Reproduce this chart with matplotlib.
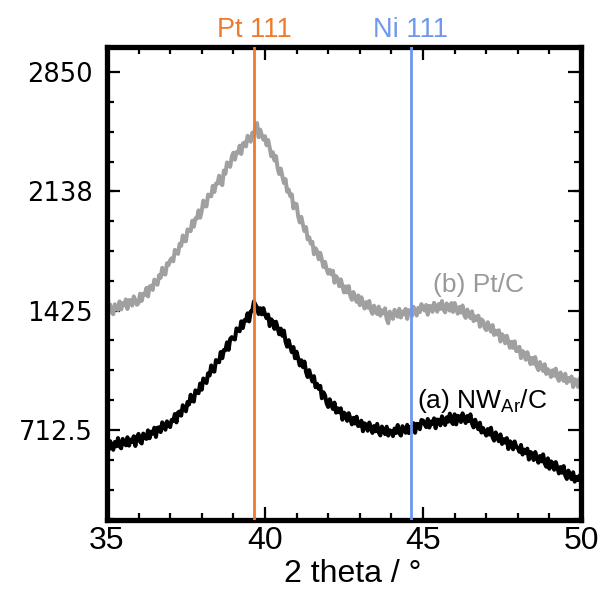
import numpy as np
import matplotlib
matplotlib.use("Agg")
import matplotlib.pyplot as plt
from matplotlib.ticker import MultipleLocator
import matplotlib.transforms as mtransforms

plt.rcParams['font.family'] = ['Liberation Sans', 'DejaVu Sans']
plt.rcParams['mathtext.fontset'] = 'custom'
plt.rcParams['mathtext.rm'] = 'Liberation Sans'
plt.rcParams['mathtext.it'] = 'Liberation Sans:italic'

# 2 theta grid, 0.05 deg steps from 35 to 50
two_theta = np.linspace(35.0, 50.0, 301)

# (a) NW_Ar/C  (black)
nw_ar = [
    623, 591, 646, 622, 594, 641, 615, 664, 616, 603, 659, 637, 621, 669, 619, 655, 641, 675, 617, 668,
    689, 643, 632, 691, 672, 659, 710, 663, 702, 691, 726, 671, 726, 728, 700, 758, 738, 714, 764, 740,
    730, 773, 767, 808, 758, 817, 823, 798, 860, 844, 824, 880, 865, 923, 886, 882, 949, 937, 932, 990,
    953, 1020, 1008, 993, 1051, 1038, 1098, 1063, 1061, 1130, 1120, 1117, 1178, 1141, 1190, 1189, 1236, 1191, 1256, 1267,
    1256, 1253, 1319, 1308, 1302, 1361, 1321, 1368, 1364, 1409, 1361, 1420, 1425, 1480, 1461, 1444, 1405, 1440, 1403, 1440,
    1405, 1380, 1402, 1333, 1373, 1360, 1316, 1359, 1323, 1284, 1318, 1275, 1306, 1241, 1210, 1249, 1210, 1177, 1208, 1141,
    1180, 1141, 1098, 1129, 1088, 1121, 1058, 1029, 1070, 1033, 1002, 1034, 968, 988, 958, 976, 902, 938, 920, 872,
    850, 896, 864, 838, 876, 816, 842, 818, 842, 774, 816, 806, 767, 813, 782, 746, 785, 751, 792, 736,
    739, 768, 705, 752, 745, 708, 757, 728, 695, 736, 705, 749, 698, 680, 733, 707, 688, 732, 679, 711,
    704, 676, 721, 695, 742, 694, 679, 735, 712, 696, 743, 694, 731, 718, 753, 696, 749, 748, 717, 772,
    769, 747, 730, 778, 727, 763, 748, 782, 723, 775, 772, 740, 794, 770, 742, 788, 762, 810, 762, 748,
    806, 746, 797, 793, 760, 812, 785, 754, 796, 765, 806, 751, 728, 774, 742, 717, 756, 697, 724, 702,
    679, 718, 685, 726, 670, 649, 698, 669, 645, 686, 629, 658, 637, 664, 599, 645, 636, 597, 644, 613,
    605, 582, 623, 566, 595, 574, 601, 536, 581, 572, 533, 581, 551, 517, 557, 525, 567, 513, 493, 543,
    481, 525, 515, 475, 521, 489, 453, 491, 457, 497, 441, 420, 470, 441, 419, 460, 404, 433, 413, 440,
    405,
]

# (b) Pt/C  (gray)
pt_c = [
    1435, 1411, 1462, 1416, 1404, 1463, 1443, 1429, 1480, 1432, 1470, 1457, 1492, 1435, 1488, 1487, 1455, 1510, 1487, 1460,
    1471, 1526, 1483, 1526, 1519, 1561, 1510, 1569, 1574, 1549, 1610, 1597, 1580, 1637, 1622, 1681, 1644, 1641, 1708, 1697,
    1726, 1738, 1720, 1788, 1778, 1764, 1824, 1812, 1874, 1840, 1840, 1910, 1902, 1900, 1962, 1926, 1976, 1976, 2024, 1980,
    2020, 2082, 2048, 2048, 2118, 2110, 2108, 2170, 2134, 2184, 2184, 2231, 2186, 2175, 2262, 2243, 2310, 2299, 2284, 2343,
    2368, 2327, 2372, 2367, 2410, 2361, 2422, 2429, 2406, 2469, 2454, 2434, 2488, 2470, 2526, 2545, 2461, 2506, 2473, 2446,
    2467, 2413, 2444, 2398, 2347, 2371, 2322, 2348, 2277, 2241, 2274, 2228, 2187, 2211, 2136, 2148, 2109, 2119, 2036, 2064,
    2061, 1990, 1952, 1985, 1939, 1900, 1924, 1851, 1863, 1826, 1836, 1762, 1798, 1780, 1732, 1770, 1730, 1686, 1716, 1674,
    1646, 1669, 1642, 1663, 1592, 1631, 1616, 1571, 1612, 1575, 1534, 1570, 1534, 1572, 1514, 1490, 1536, 1504, 1478, 1516,
    1458, 1505, 1473, 1438, 1476, 1443, 1483, 1428, 1406, 1455, 1425, 1405, 1449, 1395, 1427, 1409, 1439, 1377, 1350, 1419,
    1391, 1376, 1430, 1407, 1389, 1436, 1384, 1419, 1403, 1436, 1376, 1428, 1426, 1394, 1448, 1424, 1396, 1442, 1416, 1464,
    1440, 1426, 1459, 1401, 1453, 1451, 1418, 1472, 1448, 1419, 1465, 1436, 1482, 1431, 1415, 1468, 1443, 1425, 1470, 1418,
    1471, 1441, 1407, 1447, 1414, 1456, 1402, 1382, 1432, 1403, 1381, 1421, 1363, 1391, 1369, 1395, 1329, 1373, 1363, 1323,
    1309, 1356, 1325, 1300, 1339, 1280, 1306, 1283, 1308, 1241, 1284, 1272, 1230, 1275, 1241, 1203, 1239, 1203, 1242, 1184,
    1184, 1209, 1142, 1184, 1173, 1132, 1177, 1144, 1106, 1143, 1108, 1148, 1092, 1070, 1118, 1088, 1065, 1105, 1047, 1075,
    1063, 1029, 1069, 1037, 1079, 1026, 1006, 1056, 1028, 1006, 1048, 993, 1023, 1004, 1032, 969, 1015, 1008, 970, 1019,
    980,
]

ref_pos = [39.65, 44.62]
ref_labels = ['Pt 111', 'Ni 111']
ref_colors = ['#EE7A2E', '#6E97EE']

yticks = [712.5, 1425, 2138, 2850]
ytick_labels = ['712.5', '1425', '2138', '2850']

fig = plt.figure(figsize=(6.04, 5.94), dpi=100)
ax = fig.add_axes([0.177, 0.1246, 0.785, 0.7964])

ax.plot(two_theta, pt_c, color='#A0A0A0', lw=2.9)
ax.plot(two_theta, nw_ar, color='black', lw=2.9)

trans = mtransforms.blended_transform_factory(ax.transData, ax.transAxes)
for p, lab, c in zip(ref_pos, ref_labels, ref_colors):
    ax.axvline(p, color=c, lw=2.0, zorder=3)
    ax.text(p, 1.021, lab, color=c, fontsize=19.5, ha='center', va='baseline', transform=trans)

ax.text(45.32, 1536, '(b) Pt/C', color='#999999', fontsize=19, ha='left', va='baseline')
ax.text(44.81, 844, r'(a) NW$_{\mathrm{Ar}}$/C', color='black', fontsize=19, ha='left', va='baseline')

ax.set_xlim(35, 50)
ax.set_ylim(175, 3000)
ax.set_xticks([35, 40, 45, 50])
ax.xaxis.set_minor_locator(MultipleLocator(1))
ax.set_yticks(yticks)
ax.set_yticklabels(ytick_labels, family='DejaVu Sans', fontsize=18.5)
ax.yaxis.set_minor_locator(MultipleLocator(178.125))

for s in ax.spines.values():
    s.set_linewidth(3.8)

ax.tick_params(which='both', direction='in', top=True, right=True, width=1.6)
ax.tick_params(which='major', length=9.5)
ax.tick_params(which='minor', length=5)
ax.tick_params(axis='x', labelsize=23, pad=4)
ax.tick_params(axis='y', pad=10)

ax.set_xlabel('2 theta / \u00b0', fontsize=23)
ax.xaxis.set_label_coords(0.519, -0.082)

plt.savefig('out.png', dpi=100)
